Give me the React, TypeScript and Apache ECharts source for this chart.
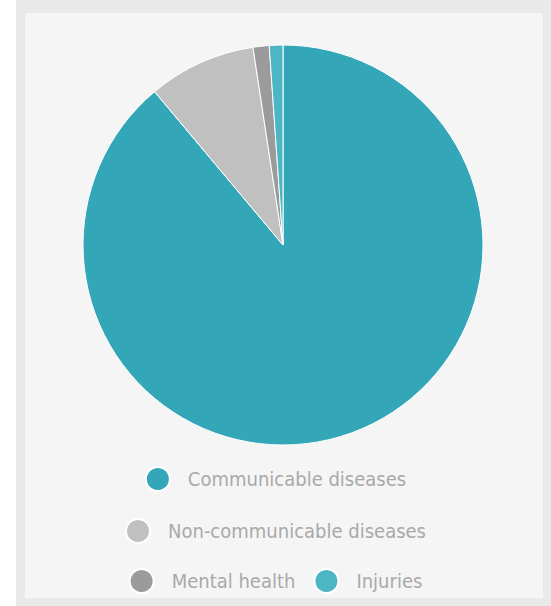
import React, { useEffect, useRef } from "react";
import * as echarts from "echarts";

const categories = ["Communicable diseases", "Non-communicable diseases", "Mental health", "Injuries"];
const values = [88.9, 8.7, 1.3, 1.1];
const colors = ["#33a6b7", "#c0c0c0", "#9b9b9b", "#4cb6c5"];
const legendRows = [["Communicable diseases"], ["Non-communicable diseases"], ["Mental health", "Injuries"]];

export default function App() {
  const ref = useRef<HTMLDivElement>(null);
  useEffect(() => {
    document.body.style.margin = "0";
    const chart = echarts.init(ref.current!, undefined, { renderer: "svg" });
    const rowTops = [461, 513, 563];
    chart.setOption({
      animation: false,
      color: colors,
      legend: legendRows.map((row, i) => ({
        data: row,
        left: "center",
        top: rowTops[i],
        orient: "horizontal",
        icon: "circle",
        itemWidth: 24,
        itemHeight: 24,
        itemGap: 18,
        selectedMode: false,
        textStyle: {
          color: "#a9a9a9",
          fontSize: 20,
          fontFamily: "'Liberation Sans Narrow', 'DejaVu Sans Condensed', 'Roboto', sans-serif",
          padding: [0, 0, 0, 13],
        },
      })),
      series: [
        {
          type: "pie",
          center: [283, 245],
          radius: 200,
          startAngle: 90,
          clockwise: true,
          label: { show: false },
          labelLine: { show: false },
          emphasis: { disabled: true },
          itemStyle: { borderColor: "#ffffff", borderWidth: 1 },
          data: categories.map((name, i) => ({ name, value: values[i] })),
        },
      ],
    });
    return () => chart.dispose();
  }, []);
  return (
    <div style={{ position: "relative", width: 551, height: 606, background: "#ffffff", overflow: "hidden" }}>
      <div style={{ position: "absolute", left: 16, top: 0, width: 535, height: 606, background: "#e9e9e9" }} />
      <div style={{ position: "absolute", left: 25, top: 13, width: 518, height: 585, background: "#f5f5f5" }} />
      <div ref={ref} style={{ position: "absolute", left: 0, top: 0, width: 551, height: 606 }} />
    </div>
  );
}
